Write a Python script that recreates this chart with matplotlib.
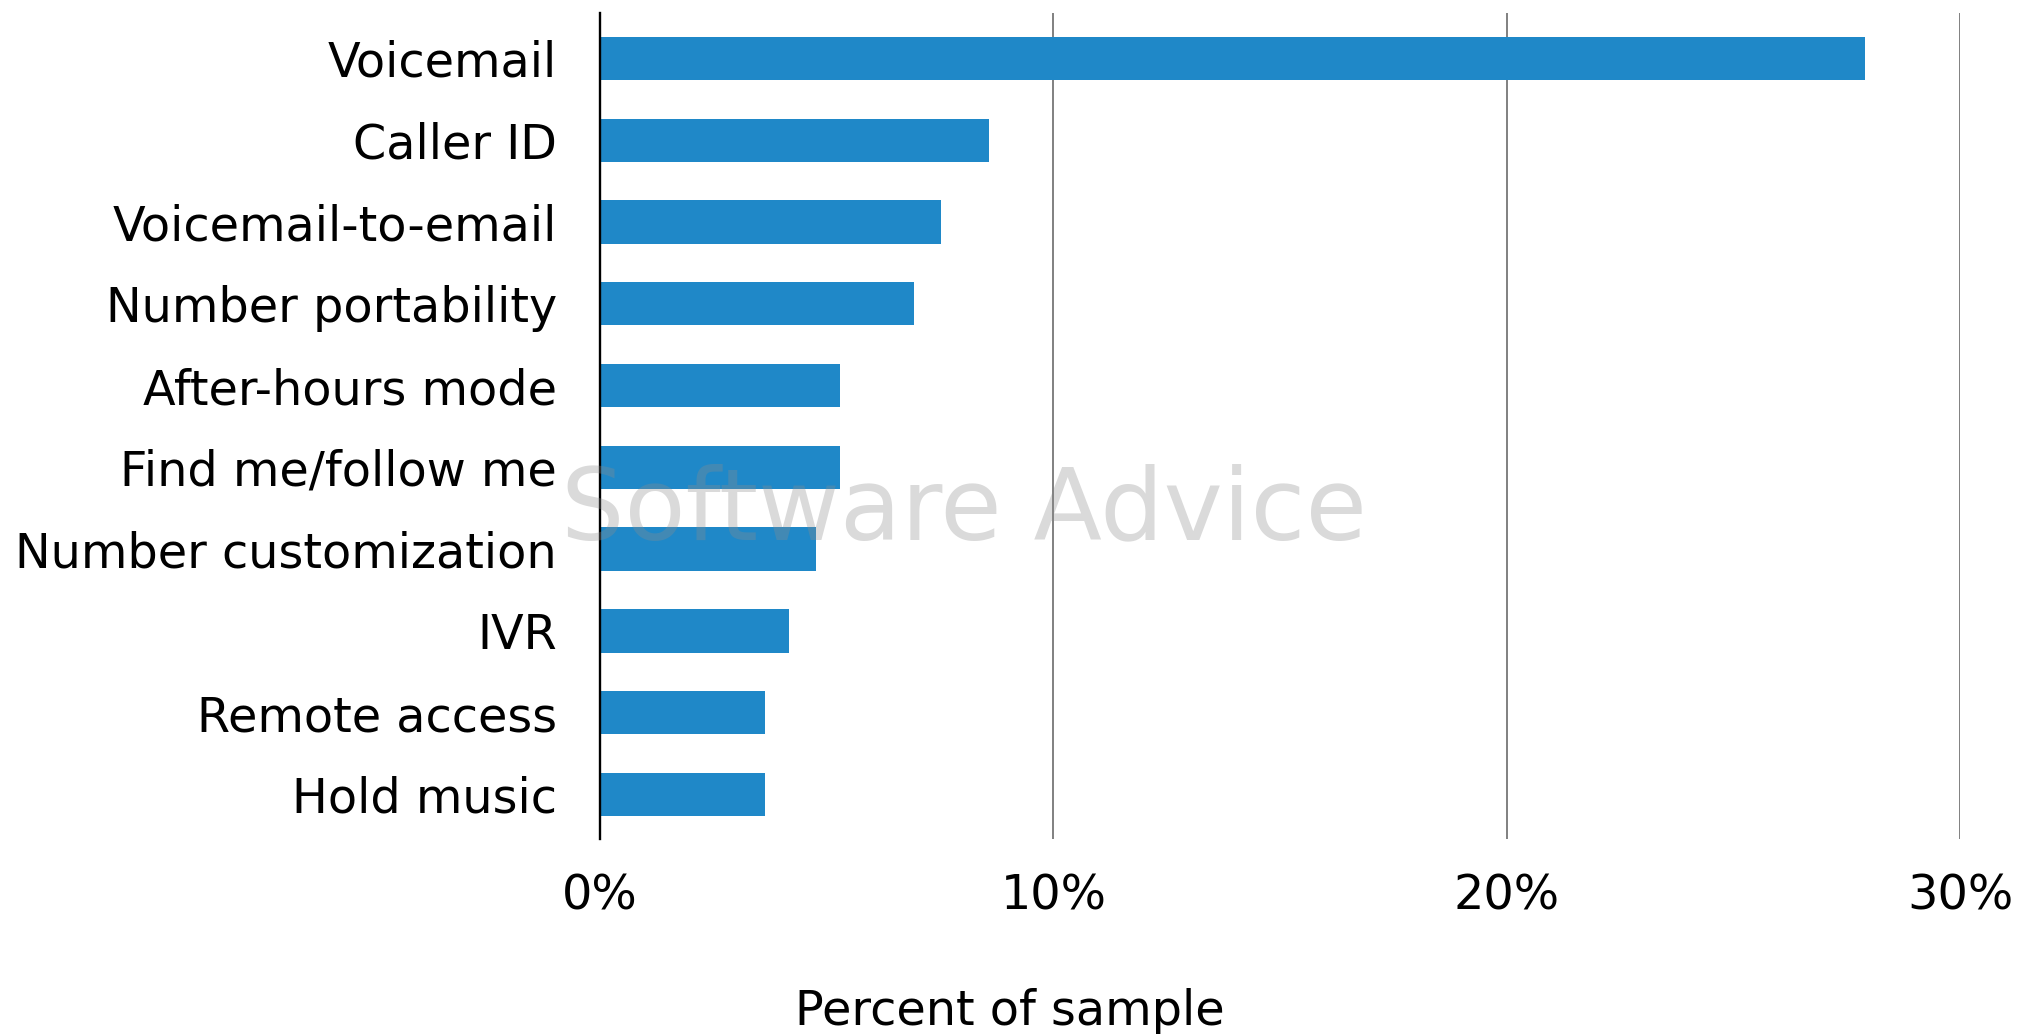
import matplotlib
matplotlib.use("Agg")
import matplotlib.pyplot as plt
from matplotlib.ticker import FuncFormatter
from matplotlib import font_manager

# survey data, top to bottom
features = ["Voicemail", "Caller ID", "Voicemail-to-email", "Number portability",
            "After-hours mode", "Find me/follow me", "Number customization",
            "IVR", "Remote access", "Hold music"]
percent = [27.9, 8.58, 7.52, 6.92, 5.29, 5.29, 4.76, 4.17, 3.64, 3.64]
xticks = [0, 10, 20, 30]

BAR = "#1f88c8"

fig = plt.figure(figsize=(20.19, 10.34), dpi=100)
ax = fig.add_axes([0.2972, 0.1886, 0.6736, 0.7988])

ypos = list(range(len(features)))
ax.barh(ypos, percent, height=0.53, color=BAR, zorder=3)

ax.set_xlim(0, 30)
ax.set_ylim(9.545, -0.555)
ax.set_yticks(ypos)
ax.set_yticklabels(features)
ax.set_xticks(xticks)
ax.xaxis.set_major_formatter(FuncFormatter(lambda v, p: "%d%%" % v))

ax.tick_params(axis="y", length=0, pad=31, labelsize=34.4)
ax.tick_params(axis="x", length=0, pad=24, labelsize=34.4)

# vertical grid
ax.grid(axis="x", color="#808080", linewidth=1.4, zorder=1)
ax.set_axisbelow(True)

for s in ["top", "right", "bottom"]:
    ax.spines[s].set_visible(False)
ax.spines["left"].set_color("black")
ax.spines["left"].set_linewidth(1.7)
ax.spines["left"].set_zorder(4)

fig.text(0.5, 0.022, "Percent of sample", ha="center", va="center", fontsize=34.4)

# faint watermark, narrow font if there is one
names = {f.name for f in font_manager.fontManager.ttflist}
if "Liberation Sans Narrow" in names:
    wm_font, wm_size = "Liberation Sans Narrow", 92
else:
    wm_font, wm_size = "DejaVu Sans", 72
fig.text(0.4775, 0.505, "Software Advice", ha="center", va="center",
         fontsize=wm_size, family=wm_font, color="#8c8c8c", alpha=0.32, zorder=5)

fig.savefig("out.png", dpi=100)
